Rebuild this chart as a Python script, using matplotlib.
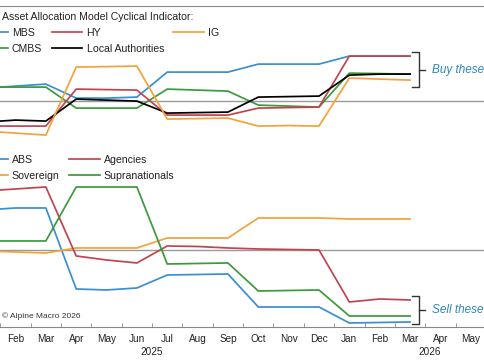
import numpy as np
import matplotlib
matplotlib.use("Agg")
import matplotlib.pyplot as plt
import matplotlib.transforms as mtransforms

plt.rcParams['font.family'] = ['Liberation Sans', 'DejaVu Sans']

# Jan 2025 .. Mar 2026 (monthly)
months = ['Jan', 'Feb', 'Mar', 'Apr', 'May', 'Jun', 'Jul', 'Aug', 'Sep',
          'Oct', 'Nov', 'Dec', 'Jan', 'Feb', 'Mar', 'Apr', 'May']
years = ['2025', '2026']

# top panel: "buy" side
mbs = [1.3, 1.5, 1.7, 0.3, 0.3, 0.4, 2.9, 2.9, 2.9, 3.7, 3.7, 3.7, 4.5, 4.5, 4.5]
hy = [-2.5, -2.5, -2.5, 1.2, 1.15, 1.1, -1.4, -1.4, -1.4, -0.7, -0.65, -0.6, 4.5, 4.5, 4.5]
ig = [-3.0, -3.2, -3.4, 3.4, 3.45, 3.5, -1.8, -1.75, -1.7, -2.5, -2.45, -2.5, 2.3, 2.2, 2.1]
cmbs = [1.4, 1.4, 1.4, -0.7, -0.7, -0.7, 1.2, 1.1, 1.0, -0.4, -0.5, -0.6, 2.8, 2.75, 2.7]
local_auth = [-2.1, -1.9, -2.0, 0.2, 0.1, 0.0, -1.2, -1.15, -1.1, 0.4, 0.45, 0.5, 2.6, 2.7, 2.7]

# bottom panel: "sell" side
abs_ = [4.0, 4.2, 4.2, -3.9, -4.0, -3.8, -2.5, -2.45, -2.4, -5.7, -5.7, -5.7, -7.3, -7.25, -7.2]
agencies = [5.9, 6.1, 6.3, -0.6, -1.0, -1.3, 0.4, 0.35, 0.2, 0.1, 0.05, 0.0, -5.2, -4.9, -5.0]
sovereign = [-0.1, -0.2, -0.3, 0.2, 0.2, 0.2, 1.2, 1.2, 1.2, 3.2, 3.2, 3.2, 3.1, 3.1, 3.1]
supra = [0.9, 0.9, 0.9, 6.3, 6.3, 6.3, -1.4, -1.35, -1.3, -4.1, -4.05, -4.0, -6.6, -6.6, -6.6]

blue = '#3a8fd0'
red = '#c1444f'
orange = '#f2a33a'
green = '#3c9a3c'
grey = '#9a9a9a'

x = np.arange(len(mbs))

fig = plt.figure(figsize=(4.85, 3.6), dpi=100)
ax1 = fig.add_axes([0, 0.597, 1, 0.386])
ax2 = fig.add_axes([0, 0.0917, 1, 0.5056])

lw = 1.25
ax1.plot(x, mbs, color=blue, lw=lw, label='MBS')
ax1.plot(x, cmbs, color=green, lw=lw, label='CMBS')
ax1.plot(x, hy, color=red, lw=lw, label='HY')
ax1.plot(x, local_auth, color='black', lw=lw, label='Local Authorities')
ax1.plot(x, ig, color=orange, lw=lw, label='IG')

ax2.plot(x, abs_, color=blue, lw=lw, label='ABS')
ax2.plot(x, sovereign, color=orange, lw=lw, label='Sovereign')
ax2.plot(x, agencies, color=red, lw=lw, label='Agencies')
ax2.plot(x, supra, color=green, lw=lw, label='Supranationals')

for ax in (ax1, ax2):
    ax.axhline(0, color=grey, lw=1, zorder=0)
    for s in ax.spines.values():
        s.set_visible(False)
    ax.set_yticks([])

ax1.spines['top'].set_visible(True)
ax1.spines['top'].set_color('#888888')
ax1.set_xticks([])
ax2.spines['bottom'].set_visible(True)
ax2.spines['bottom'].set_color('#888888')

ax2.set_xticks(np.arange(len(months)))
ax2.set_xticklabels(months, fontsize=7.2, color='#222222')
ax2.set_xticks(np.arange(-0.5, len(months)), minor=True)
ax2.tick_params(axis='x', which='major', length=0, pad=5)
ax2.tick_params(axis='x', which='minor', length=3, direction='in', color='#888888')

# limits after ticks (set_xticks widens the view)
for ax in (ax1, ax2):
    ax.set_xlim(0.489, 16.47)
ax1.set_ylim(-4.4, 9.5)
ax2.set_ylim(-7.7, 10.5)

trans = mtransforms.blended_transform_factory(ax2.transData, ax2.transAxes)
ax2.text(5.5, -0.14, years[0], transform=trans, ha='center', va='center', fontsize=7.2, color='#222222')
ax2.text(14.66, -0.14, years[1], transform=trans, ha='center', va='center', fontsize=7.2, color='#222222')

# legends
fig.text(2 / 485, 1 - 17 / 360, 'Asset Allocation Model Cyclical Indicator:', fontsize=7.6,
         ha='left', va='center', color='#222222')
h, l = ax1.get_legend_handles_labels()
ax1.legend(h, l, ncol=3, loc='upper left', bbox_to_anchor=(-23 / 485, 1 - 28 / 360),
           bbox_transform=fig.transFigure, frameon=False, fontsize=7.6, handlelength=2.9,
           handletextpad=0.4, columnspacing=0.9, borderpad=0, borderaxespad=0, labelspacing=0.55,
           labelcolor='#222222')
h, l = ax2.get_legend_handles_labels()
ax2.legend(h, l, ncol=2, loc='upper left', bbox_to_anchor=(-23 / 485, 1 - 155 / 360),
           bbox_transform=fig.transFigure, frameon=False, fontsize=7.6, handlelength=2.9,
           handletextpad=0.4, columnspacing=0.9, borderpad=0, borderaxespad=0, labelspacing=0.55,
           labelcolor='#222222')

# brackets
def bracket(ax, top, bottom, text):
    xb, xh, xt = 14.29, 14.07, 14.49
    mid = (top + bottom) / 2
    ax.plot([xh, xb, xb, xh], [top, top, bottom, bottom], color='#333333', lw=1, clip_on=False)
    ax.plot([xb, xt], [mid, mid], color='#333333', lw=1, clip_on=False)
    ax.text(14.72, mid, text, color='#2e86c1', style='italic', fontsize=8.5,
            ha='left', va='center', clip_on=False)

bracket(ax1, 4.9, 1.4, 'Buy these')
bracket(ax2, -4.6, -7.4, 'Sell these')

fig.text(2 / 485, 1 - 316 / 360, '\u00a9 Alpine Macro 2026', fontsize=6, ha='left', va='center',
         color='#333333')

fig.savefig('out.png', dpi=100)
